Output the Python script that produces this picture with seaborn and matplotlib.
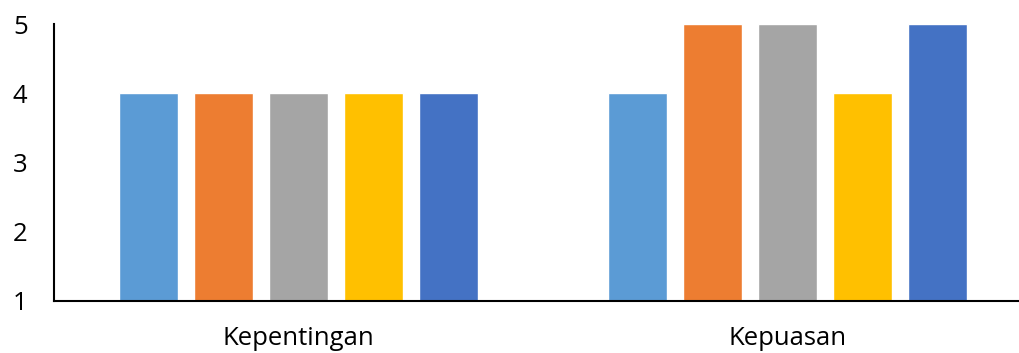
import matplotlib
matplotlib.use("Agg")
import matplotlib.pyplot as plt
import seaborn as sns
import pandas as pd

categories = ["Kepentingan", "Kepuasan"]
series = ["A", "B", "C", "D", "E"]
kepentingan = [4, 4, 4, 4, 4]
kepuasan = [4, 5, 5, 4, 5]
colors = ["#5B9BD5", "#ED7D31", "#A5A5A5", "#FFC000", "#4472C4"]
yticks = [1, 2, 3, 4, 5]

rows = []
for s, v in zip(series, kepentingan):
    rows.append({"cat": categories[0], "series": s, "value": v})
for s, v in zip(series, kepuasan):
    rows.append({"cat": categories[1], "series": s, "value": v})
df = pd.DataFrame(rows)

sns.set_style("white")
plt.rcParams["font.family"] = ["Open Sans", "DejaVu Sans"]

fig = plt.figure(figsize=(10.2, 3.53), dpi=100)
ax = fig.add_axes([54 / 1020, 1 - 301 / 353, 1 - 54 / 1020, (301 - 24) / 353])

sns.barplot(data=df, x="cat", y="value", hue="series", palette=colors,
            width=0.767, gap=0.21, legend=False, ax=ax, saturation=1)

ax.set_ylim(1, 5)
ax.set_xlim(-0.5, -0.5 + 966 / 489)
ax.set_yticks(yticks)
ax.set_yticklabels([str(t) for t in yticks])
ax.set_xlabel("")
ax.set_ylabel("")
for side in ["top", "right"]:
    ax.spines[side].set_visible(False)
for side in ["left", "bottom"]:
    ax.spines[side].set_color("#000000")
    ax.spines[side].set_linewidth(1.5)
    ax.spines[side].set_zorder(5)
ax.tick_params(axis="y", length=0, pad=19, labelsize=18.5)
ax.tick_params(axis="x", length=0, pad=18, labelsize=18.5)
for lbl in ax.get_xticklabels() + ax.get_yticklabels():
    lbl.set_color("#000000")

fig.savefig("out.png", dpi=100)
